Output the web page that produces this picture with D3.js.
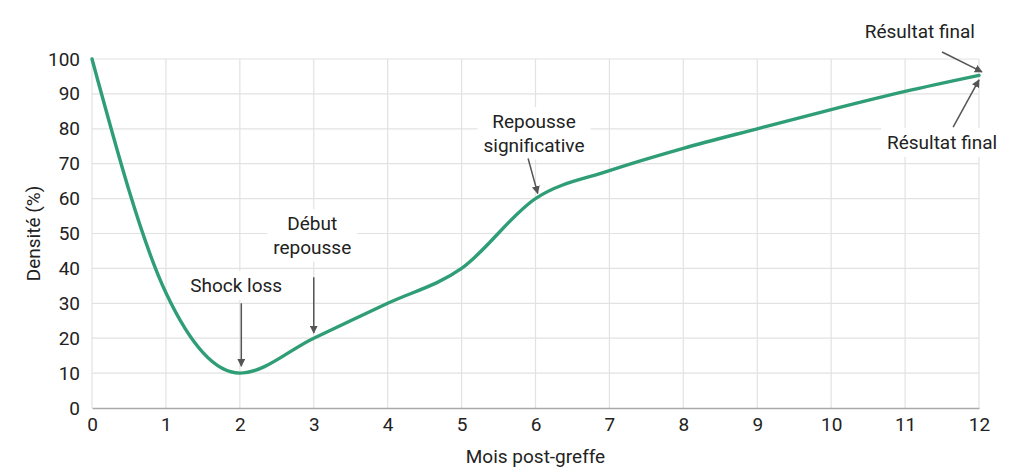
<!DOCTYPE html>
<html lang="fr">
<head>
<meta charset="utf-8">
<title>Densité post-greffe</title>
<script src="https://cdn.jsdelivr.net/npm/d3@7"></script>
<style>
  body { margin: 0; background: #fff; font-family: Roboto, "Noto Sans", sans-serif; }
  .tick text { font-size: 19px; fill: #222; font-family: Roboto, sans-serif; }
  .axis-title { font-size: 19px; fill: #222; }
  .annot { font-size: 19px; fill: #222; }
</style>
</head>
<body>
<svg id="chart" width="1024" height="474"></svg>
<script>
// données
const mois = [0, 1, 2, 3, 4, 5, 6, 7, 8, 9, 10, 11, 12]
const densite = [100, 33, 10, 20, 30, 40, 60, 68, 74.4, 80, 85.5, 90.7, 95.3]
const xTicks = [0, 1, 2, 3, 4, 5, 6, 7, 8, 9, 10, 11, 12]
const yTicks = [0, 10, 20, 30, 40, 50, 60, 70, 80, 90, 100]

// annotations: texte, position du texte (en unités), flèche de -> vers (en unités)
const annotations = [
  { lines: ["Shock loss"], tx: 1.95, ty: 33.2, from: [2.02, 30], to: [2.02, 12] },
  { lines: ["Début", "repousse"], tx: 2.98, ty: 51, from: [3.0, 37.5], to: [3.0, 21.5] },
  { lines: ["Repousse", "significative"], tx: 5.98, ty: 80.2, from: [5.9, 71.5], to: [6.03, 61.5] },
  { lines: ["Résultat final"], tx: 11.2, ty: 106, from: [11.5, 102], to: [12.04, 96.3] },
  { lines: ["Résultat final"], tx: 11.5, ty: 74.2, from: [11.65, 80.5], to: [12.0, 94] }
]

const margin = { top: 59, right: 45, bottom: 66, left: 92 }
const width = 1024, height = 474
const svg = d3.select("#chart")

const x = d3.scaleLinear().domain([0, 12]).range([margin.left, width - margin.right])
const y = d3.scaleLinear().domain([0, 100]).range([height - margin.bottom, margin.top])

svg.append("defs").append("marker")
    .attr("id", "arrow")
    .attr("viewBox", "0 0 10 10")
    .attr("refX", 9).attr("refY", 5)
    .attr("markerWidth", 8).attr("markerHeight", 8)
    .attr("markerUnits", "userSpaceOnUse")
    .attr("orient", "auto")
  .append("path")
    .attr("d", "M0,0 L10,5 L0,10 z")
    .attr("fill", "#555")

// grille
svg.append("g")
    .selectAll("line")
    .data(yTicks.filter(d => d > 0))
    .join("line")
    .attr("x1", x(0)).attr("x2", x(12))
    .attr("y1", d => y(d)).attr("y2", d => y(d))
    .attr("stroke", "#e2e2e2").attr("stroke-width", 1.2)

svg.append("g")
    .selectAll("line")
    .data(xTicks)
    .join("line")
    .attr("x1", d => x(d)).attr("x2", d => x(d))
    .attr("y1", y(0)).attr("y2", y(100))
    .attr("stroke", "#e2e2e2").attr("stroke-width", 1.2)

// axes
svg.append("g")
    .attr("transform", `translate(0,${y(0)})`)
    .call(d3.axisBottom(x).tickValues(xTicks).tickSize(0).tickPadding(10))
    .call(g => g.select(".domain").attr("stroke", "#aaa").attr("stroke-width", 1.5))

svg.append("g")
    .attr("transform", `translate(${x(0)},0)`)
    .call(d3.axisLeft(y).tickValues(yTicks).tickSize(0).tickPadding(12))
    .call(g => g.select(".domain").remove())

svg.append("text")
    .attr("class", "axis-title")
    .attr("x", x(6)).attr("y", 463)
    .attr("text-anchor", "middle")
    .text("Mois post-greffe")

svg.append("text")
    .attr("class", "axis-title")
    .attr("transform", `translate(40,${y(50)}) rotate(-90)`)
    .attr("text-anchor", "middle")
    .text("Densité (%)")

// courbe
const line = d3.line()
    .x((d, i) => x(mois[i]))
    .y(d => y(d))
    .curve(d3.curveMonotoneX)

svg.append("path")
    .datum(densite)
    .attr("d", line)
    .attr("fill", "none")
    .attr("stroke", "#2f9e77")
    .attr("stroke-width", 3.4)
    .attr("stroke-linecap", "round")

// annotations
const ann = svg.append("g")
annotations.forEach(a => {
  const t = ann.append("text")
      .attr("class", "annot")
      .attr("text-anchor", "middle")
      .attr("x", x(a.tx)).attr("y", y(a.ty))
  a.lines.forEach((l, i) => {
    t.append("tspan").attr("x", x(a.tx)).attr("dy", i === 0 ? 0 : 23.5).text(l)
  })
  const bb = t.node().getBBox()
  ann.insert("rect", "text")
      .attr("x", bb.x - 6).attr("y", bb.y - 3)
      .attr("width", bb.width + 12).attr("height", bb.height + 6)
      .attr("fill", "#fff")
  ann.append("line")
      .attr("x1", x(a.from[0])).attr("y1", y(a.from[1]))
      .attr("x2", x(a.to[0])).attr("y2", y(a.to[1]))
      .attr("stroke", "#555").attr("stroke-width", 1.5)
      .attr("marker-end", "url(#arrow)")
})
</script>
</body>
</html>
